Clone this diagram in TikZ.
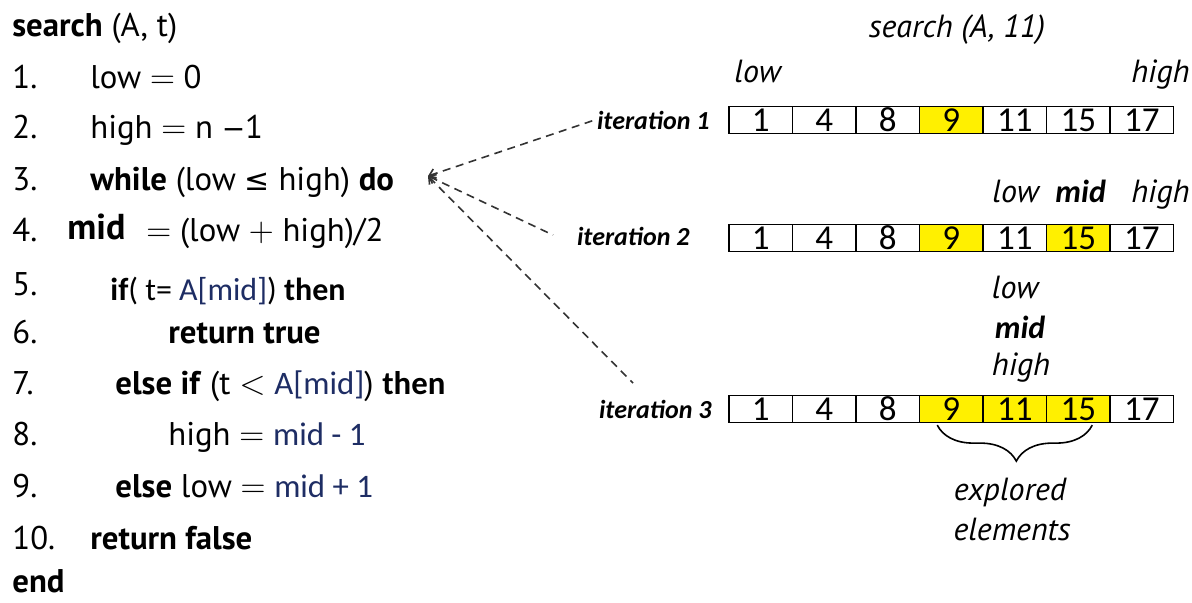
\documentclass[tikz,border=0pt]{standalone}
\usepackage{fontspec}
\setmainfont{PT Sans}
\newfontfamily\calfont{Carlito}
\newfontfamily\symfont{DejaVu Sans}
\usetikzlibrary{arrows.meta,decorations.pathreplacing}
\definecolor{hl}{RGB}{255,240,0}
\definecolor{navy}{RGB}{30,45,100}
\begin{document}
\begin{tikzpicture}[x=0.5pt,y=-0.5pt,
  code/.style={anchor=base west,inner sep=0pt,font=\fontsize{16.4}{18}\selectfont},
  calcode/.style={anchor=base west,inner sep=0pt,font=\calfont\fontsize{16}{18}\selectfont},
  lbl/.style={inner sep=0pt,font=\fontsize{16}{18}\selectfont\itshape},
  iter/.style={anchor=east,inner sep=0pt,font=\calfont\fontsize{13}{14}\selectfont\bfseries\itshape},
  cell/.style={draw,line width=0.6pt,minimum width=31.75pt,minimum height=13.5pt,inner sep=0pt,font=\calfont\fontsize{17.5}{18}\selectfont},
  link/.style={line width=0.8pt,dash pattern=on 4pt off 2.8pt,color=black!80}]
\useasboundingbox (0,0) rectangle (1192,602);
% pseudo code
\node[code] (t0) at (12,36) {\textbf{search} (A, t)};
\node[code] (n1) at (12,88) {1.};
\node[code] (l1) at (90,88) {low \(=\) 0};
\node[code] (n2) at (12,138) {2.};
\node[code] (l2) at (90,138) {high \(=\) n {\symfont\fontsize{14}{16}\selectfont −}1};
\node[code] (n3) at (12,190) {3.};
\node[code] (l3) at (90,190) {\textbf{while} (low {\symfont\fontsize{15}{16}\selectfont ≤} high) \textbf{do}};
\node[code] (n4) at (12,241) {4.};
\node[code,font=\fontsize{18}{20}\selectfont\bfseries] (m4) at (67,239) {mid};
\node[code] (l4) at (146,241) {\(=\) (low \(+\) high)/2};
\node[code] (n5) at (12,295) {5.};
\node[calcode] (l5) at (110,300) {\textbf{if}( t= \textcolor{navy}{A[mid]}) \textbf{then}};
\node[code] (n6) at (12,343) {6.};
\node[code] (l6) at (168,343) {\textbf{return true}};
\node[code] (n7) at (12,394) {7.};
\node[code] (l7) at (115,394) {\textbf{else if} (t \(<\) \textcolor{navy}{\calfont A[mid]}) {\calfont\bfseries then}};
\node[code] (n8) at (12,445) {8.};
\node[code] (l8) at (168,445) {high \(=\) \textcolor{navy}{\calfont mid - 1}};
\node[code] (n9) at (12,497) {9.};
\node[code] (l9) at (115,497) {\textbf{else} low \(=\) \textcolor{navy}{\calfont mid + 1}};
\node[code] (n10) at (12,549) {10.};
\node[code] (l10) at (90,549) {\textbf{return false}};
\node[code] (e) at (12,592) {\textbf{end}};
% right side
\node[lbl,anchor=base] (title) at (957,37) {search (A, 11)};
\node[lbl,anchor=base west] (lo1) at (734,82) {low};
\node[lbl,anchor=base east] (hi1) at (1190,82) {high};
\node[lbl,anchor=base west] (lo2) at (992,202) {low};
\node[lbl,anchor=base west,font=\calfont\fontsize{16}{18}\selectfont\bfseries\itshape] (mi2) at (1055,202) {mid};
\node[lbl,anchor=base east] (hi2) at (1190,202) {high};
\node[lbl,anchor=base] (lo3) at (1015,298) {low};
\node[lbl,anchor=base,font=\calfont\fontsize{16}{18}\selectfont\bfseries\itshape] (mi3) at (1020,338) {mid};
\node[lbl,anchor=base] (hi3) at (1021,375) {high};
\node[iter] (it1) at (710,120) {iteration 1};
\node[iter] (it2) at (690,236) {iteration 2};
\node[iter] (it3) at (712,409) {iteration 3};
% arrays
\foreach \v/\f [count=\i] in {1/white,4/white,8/white,9/hl,11/white,15/white,17/white}
  \node[cell,fill=\f] (r1c\i) at ({729+63.5*(\i-0.5)},120) {\v};
\foreach \v/\f [count=\i] in {1/white,4/white,8/white,9/hl,11/white,15/hl,17/white}
  \node[cell,fill=\f] (r2c\i) at ({729+63.5*(\i-0.5)},238) {\v};
\foreach \v/\f [count=\i] in {1/white,4/white,8/white,9/hl,11/hl,15/hl,17/white}
  \node[cell,fill=\f] (r3c\i) at ({729+63.5*(\i-0.5)},409) {\v};
% brace
\draw[line width=0.8pt,decorate,decoration={brace,amplitude=18pt,aspect=0.49}] ([xshift=7pt,yshift=-1pt]r3c6.south) -- ([xshift=-7pt,yshift=-1pt]r3c4.south);
\node[lbl,anchor=base] (expl) at (1010,500) {explored};
\node[lbl,anchor=base] (elem) at (1012,540) {elements};
% dashed links
\coordinate (src) at (428,176);
\coordinate (e2) at (553,235);
\coordinate (e3) at (633,383);
\draw[link,{Straight Barb[length=3pt,width=5pt]}-] (src) -- ([xshift=-1pt]it1.west);
\draw[link,{Straight Barb[length=3pt,width=5pt]}-] (src) -- (e2);
\draw[link,{Straight Barb[length=3pt,width=5pt]}-] (src) -- (e3);
\end{tikzpicture}
\end{document}
